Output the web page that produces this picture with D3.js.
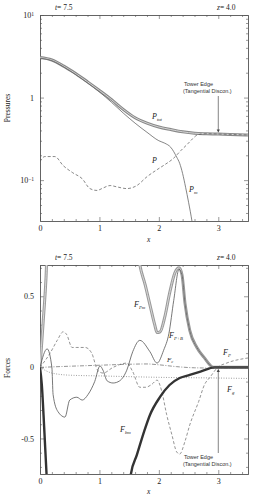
<!DOCTYPE html>
<html>
<head>
<meta charset="utf-8">
<script src="https://cdn.jsdelivr.net/npm/d3@7"></script>
<style>
  body { margin: 0; background: #fff; }
  text { font-family: "Liberation Serif", serif; fill: #222; }
  .ann { font-family: "Liberation Sans", sans-serif; font-size: 5.5px; fill: #333; }
</style>
</head>
<body>
<svg width="254" height="498"></svg>
<script>
// ---- data ----
const ptotX = [0, 0.2, 0.4, 0.6, 0.8, 1.0, 1.2, 1.4, 1.6, 1.8, 2.0, 2.2, 2.4, 2.6, 2.8, 3.0, 3.2, 3.5];
const ptotY = [3.05, 2.85, 2.4, 1.95, 1.55, 1.22, 0.95, 0.72, 0.57, 0.49, 0.44, 0.41, 0.385, 0.37, 0.365, 0.362, 0.358, 0.352];

const pmX = [0, 0.2, 0.4, 0.6, 0.8, 1.0, 1.2, 1.4, 1.6, 1.8, 2.0, 2.1, 2.2, 2.3, 2.35, 2.4, 2.45, 2.5, 2.56, 2.6];
const pmY = [3.0, 2.8, 2.35, 1.9, 1.5, 1.17, 0.88, 0.65, 0.49, 0.38, 0.30, 0.28, 0.25, 0.19, 0.16, 0.12, 0.082, 0.054, 0.031, 0.02];

const pX = [0, 0.08, 0.25, 0.39, 0.55, 0.71, 0.84, 0.96, 1.04, 1.18, 1.29, 1.46, 1.63, 1.8, 1.97, 2.1, 2.24, 2.37, 2.49, 2.57, 2.66, 2.8, 3.0, 3.2, 3.5];
const pY = [0.168, 0.193, 0.193, 0.15, 0.123, 0.104, 0.079, 0.075, 0.079, 0.086, 0.083, 0.079, 0.086, 0.11, 0.134, 0.154, 0.182, 0.228, 0.277, 0.318, 0.356, 0.365, 0.362, 0.358, 0.352];

const fpmX = [0, 0.05, 0.1, 0.13, 1.6, 1.68, 1.77, 1.85, 1.93, 1.97, 2.02, 2.1, 2.18, 2.27, 2.34, 2.39, 2.44, 2.52, 2.64, 2.76, 2.92, 3.0, 3.5];
const fpmY = [0, 0.3, 0.62, 0.9, 0.95, 0.72, 0.58, 0.44, 0.30, 0.245, 0.25, 0.355, 0.52, 0.665, 0.70, 0.65, 0.45, 0.26, 0.14, 0.07, 0.0, 0, 0];

const fbmX = [0, 0.03, 0.07, 0.11, 0.14, 1.5, 1.53, 1.63, 1.75, 1.85, 2.02, 2.18, 2.35, 2.52, 2.7, 2.94, 3.0, 3.5];
const fbmY = [0, -0.12, -0.42, -0.75, -0.95, -0.95, -0.75, -0.616, -0.454, -0.335, -0.208, -0.124, -0.075, -0.053, -0.03, 0, 0, 0];

const fpbX = [0, 0.12, 0.2, 0.22, 0.3, 0.42, 0.5, 0.62, 0.71, 0.81, 0.92, 1.01, 1.06, 1.13, 1.23, 1.34, 1.46, 1.56, 1.68, 1.85, 1.97, 2.08, 2.17, 2.25, 2.34, 2.39, 2.44, 2.52, 2.64, 2.76, 2.92, 3.0, 3.5];
const fpbY = [0, 0.13, 0.0, -0.19, -0.31, -0.35, -0.23, -0.21, -0.23, -0.19, -0.10, 0.01, -0.02, -0.095, -0.11, -0.095, -0.02, 0.11, 0.19, 0.11, 0.03, 0.12, 0.24, 0.47, 0.69, 0.65, 0.45, 0.26, 0.14, 0.07, 0.0, 0, 0];

const fpX = [0, 0.17, 0.29, 0.39, 0.45, 0.54, 0.62, 0.76, 0.87, 0.97, 1.06, 1.23, 1.46, 1.56, 1.68, 1.78, 1.88, 1.97, 2.05, 2.13, 2.22, 2.30, 2.35, 2.44, 2.52, 2.67, 2.77, 2.86, 2.99, 3.14, 3.5];
const fpY = [0, 0.10, 0.19, 0.25, 0.23, 0.14, 0.14, 0.14, 0.10, -0.02, -0.04, 0, 0.03, -0.03, -0.14, -0.14, -0.12, -0.09, -0.17, -0.33, -0.475, -0.595, -0.61, -0.52, -0.405, -0.24, -0.12, -0.07, 0, 0.03, 0.066];

const fcX = [0, 0.5, 1.0, 1.5, 1.8, 2.0, 2.3, 2.6, 3.0, 3.5];
const fcY = [0, 0.008, 0.015, 0.022, 0.024, 0.018, 0.005, -0.003, -0.005, -0.005];

const fgX = [0, 0.2, 0.5, 1.0, 2.0, 3.0, 3.5];
const fgY = [0, -0.04, -0.055, -0.06, -0.07, -0.075, -0.078];

const xMajor = [0, 1, 2, 3];
const topMajor = [0.1, 1, 10];
const botMajor = [-0.5, 0, 0.5];
const towerEdgeX = 3;

// ---- layout ----
const svg = d3.select('svg');
const left = 40, right = 248;
const top1 = 15, bot1 = 221;
const top2 = 265, bot2 = 474;

const x = d3.scaleLinear().domain([0, 3.5]).range([left, right]);
const yP = d3.scaleLog().domain([0.032, 10]).range([bot1, top1]);
const yF = d3.scaleLinear().domain([-0.75, 0.72]).range([bot2, top2]);

const zip = (xs, ys) => xs.map((v, i) => [v, ys[i]]);

const defs = svg.append('defs');
defs.append('clipPath').attr('id', 'clip1').append('rect')
    .attr('x', left).attr('y', top1).attr('width', right - left).attr('height', bot1 - top1);
defs.append('clipPath').attr('id', 'clip2').append('rect')
    .attr('x', left).attr('y', top2).attr('width', right - left).attr('height', bot2 - top2);
defs.append('marker').attr('id', 'arr')
    .attr('viewBox', '0 0 10 10').attr('refX', 5).attr('refY', 5)
    .attr('markerWidth', 4).attr('markerHeight', 5).attr('orient', 'auto-start-reverse')
    .append('path').attr('d', 'M0,0 L10,5 L0,10 z').attr('fill', '#444');

const minorX = d3.range(0, 3.51, 0.2).filter(v => Math.abs(v - Math.round(v)) > 1e-6);

function frame(y, yTop, yBot, majorY, minorY, leftFmt) {
    const ax = svg.append('g').attr('class', 'axes');
    const style = g => {
        g.select('.domain').attr('stroke', '#555').attr('stroke-width', 0.7);
        g.selectAll('.tick line').attr('stroke', '#555').attr('stroke-width', 0.6);
        g.selectAll('.tick text').attr('font-size', 8).attr('fill', '#222')
            .attr('font-family', '"Liberation Serif", serif');
    };
    ax.append('g').attr('transform', `translate(0,${yBot})`)
        .call(d3.axisBottom(x).tickValues(xMajor).tickSize(-4).tickSizeOuter(0).tickPadding(4).tickFormat(d3.format('d'))).call(style);
    ax.append('g').attr('transform', `translate(0,${yBot})`)
        .call(d3.axisBottom(x).tickValues(minorX).tickSize(-2).tickSizeOuter(0).tickFormat('')).call(style);
    ax.append('g').attr('transform', `translate(0,${yTop})`)
        .call(d3.axisTop(x).tickValues(xMajor).tickSize(-4).tickSizeOuter(0).tickFormat('')).call(style);
    ax.append('g').attr('transform', `translate(0,${yTop})`)
        .call(d3.axisTop(x).tickValues(minorX).tickSize(-2).tickSizeOuter(0).tickFormat('')).call(style);
    const la = ax.append('g').attr('transform', `translate(${left},0)`)
        .call(d3.axisLeft(y).tickValues(majorY).tickSize(-4).tickSizeOuter(0).tickPadding(6).tickFormat(leftFmt)).call(style);
    ax.append('g').attr('transform', `translate(${left},0)`)
        .call(d3.axisLeft(y).tickValues(minorY).tickSize(-2).tickSizeOuter(0).tickFormat('')).call(style);
    ax.append('g').attr('transform', `translate(${right},0)`)
        .call(d3.axisRight(y).tickValues(majorY).tickSize(-4).tickSizeOuter(0).tickFormat('')).call(style);
    ax.append('g').attr('transform', `translate(${right},0)`)
        .call(d3.axisRight(y).tickValues(minorY).tickSize(-2).tickSizeOuter(0).tickFormat('')).call(style);
    return la;
}

// ---- top panel: pressures ----
const logMinor = [];
[0.01, 0.1, 1].forEach(d => d3.range(2, 10).forEach(m => {
    const v = d * m;
    if (v >= 0.032 && v < 10) logMinor.push(v);
}));
const la1 = frame(yP, top1, bot1, topMajor, logMinor, () => '');
la1.selectAll('.tick text').each(function (d) {
    const t = d3.select(this);
    if (d === 1) { t.text('1'); return; }
    t.append('tspan').text('10');
    t.append('tspan').attr('dy', '-0.45em').attr('font-size', '5.5px').text(d === 10 ? '1' : '\u22121');
});

const line1 = d3.line().x(d => x(d[0])).y(d => yP(d[1])).curve(d3.curveMonotoneX);
const c1 = svg.append('g').attr('clip-path', 'url(#clip1)');
c1.append('path').datum(zip(ptotX, ptotY)).attr('d', line1)
    .attr('fill', 'none').attr('stroke', '#888').attr('stroke-width', 3);
c1.append('path').datum(zip(ptotX, ptotY)).attr('d', line1)
    .attr('fill', 'none').attr('stroke', '#d4d4d4').attr('stroke-width', 1);
c1.append('path').datum(zip(pmX, pmY)).attr('d', line1)
    .attr('fill', 'none').attr('stroke', '#666').attr('stroke-width', 0.8);
c1.append('path').datum(zip(pX, pY)).attr('d', line1)
    .attr('fill', 'none').attr('stroke', '#555').attr('stroke-width', 0.7).attr('stroke-dasharray', '3,2');

// ---- bottom panel: forces ----
frame(yF, top2, bot2, botMajor, d3.range(-0.7, 0.71, 0.1).map(v => +v.toFixed(1)).filter(v => v % 0.5 !== 0),
    d => d === 0 ? '0' : d3.format('.1f')(d).replace('\u2212', '-'));

const line2 = d3.line().x(d => x(d[0])).y(d => yF(d[1])).curve(d3.curveMonotoneX);
const c2 = svg.append('g').attr('clip-path', 'url(#clip2)');
c2.append('path').datum(zip(fgX, fgY)).attr('d', line2)
    .attr('fill', 'none').attr('stroke', '#777').attr('stroke-width', 0.7).attr('stroke-dasharray', '1,1.5');
c2.append('path').datum(zip(fcX, fcY)).attr('d', line2)
    .attr('fill', 'none').attr('stroke', '#666').attr('stroke-width', 0.7).attr('stroke-dasharray', '4,1.5,1,1.5');
c2.append('path').datum(zip(fpX, fpY)).attr('d', line2)
    .attr('fill', 'none').attr('stroke', '#666').attr('stroke-width', 0.7).attr('stroke-dasharray', '3,2');
c2.append('path').datum(zip(fpmX, fpmY)).attr('d', line2)
    .attr('fill', 'none').attr('stroke', '#999').attr('stroke-width', 3);
c2.append('path').datum(zip(fpmX, fpmY)).attr('d', line2)
    .attr('fill', 'none').attr('stroke', '#d8d8d8').attr('stroke-width', 1);
c2.append('path').datum(zip(fbmX, fbmY)).attr('d', line2)
    .attr('fill', 'none').attr('stroke', '#333').attr('stroke-width', 2.4);
c2.append('path').datum(zip(fpbX, fpbY)).attr('d', line2)
    .attr('fill', 'none').attr('stroke', '#555').attr('stroke-width', 0.8);

// ---- labels ----
function varLabel(px, py, main, sub, size) {
    const t = svg.append('text').attr('x', px).attr('y', py)
        .attr('font-size', size || 8).attr('font-style', 'italic');
    t.append('tspan').text(main);
    if (sub) t.append('tspan').attr('dy', '0.35em').attr('font-size', (size || 8) * 0.6).text(sub);
    return t;
}
function title(py) {
    const t = svg.append('text').attr('x', 55).attr('y', py).attr('font-size', 7.5);
    t.append('tspan').attr('font-style', 'italic').text('t');
    t.append('tspan').text('= 7.5');
    const z = svg.append('text').attr('x', 217).attr('y', py).attr('font-size', 7.5);
    z.append('tspan').attr('font-style', 'italic').text('z');
    z.append('tspan').text('= 4.0');
}
title(10);
title(260);

svg.append('text').attr('transform', 'translate(10,108) rotate(-90)')
    .attr('text-anchor', 'middle').attr('font-size', 7.5).text('Pressures');
svg.append('text').attr('transform', 'translate(10,368) rotate(-90)')
    .attr('text-anchor', 'middle').attr('font-size', 7.5).text('Forces');
svg.append('text').attr('x', 147).attr('y', 242).attr('font-size', 7.5).attr('font-style', 'italic').text('x');
svg.append('text').attr('x', 147).attr('y', 494).attr('font-size', 7.5).attr('font-style', 'italic').text('x');

varLabel(152, 119, 'P', 'tot');
varLabel(152, 163, 'P', '');
varLabel(189, 192, 'P', 'm');

varLabel(134, 307, 'F', 'Pm');
varLabel(169, 338, 'F', 'P+B');
varLabel(167, 362, 'F', 'c', 7);
varLabel(223, 355, 'F', 'P');
varLabel(227, 392, 'F', 'g');
varLabel(120, 432, 'F', 'bm');

// tower edge annotations
function towerEdge(textY, y0, y1) {
    svg.append('line').attr('x1', x(towerEdgeX)).attr('x2', x(towerEdgeX))
        .attr('y1', y0).attr('y2', y1).attr('stroke', '#666').attr('stroke-width', 0.8)
        .attr('marker-end', 'url(#arr)');
    svg.append('text').attr('class', 'ann').attr('x', 184).attr('y', textY).text('Tower Edge');
    svg.append('text').attr('class', 'ann').attr('x', 183).attr('y', textY + 7).text('(Tangential Discon.)');
}
towerEdge(86, 96, yP(0.362) - 3);
towerEdge(459, 453, yF(0) + 3);
</script>
</body>
</html>
